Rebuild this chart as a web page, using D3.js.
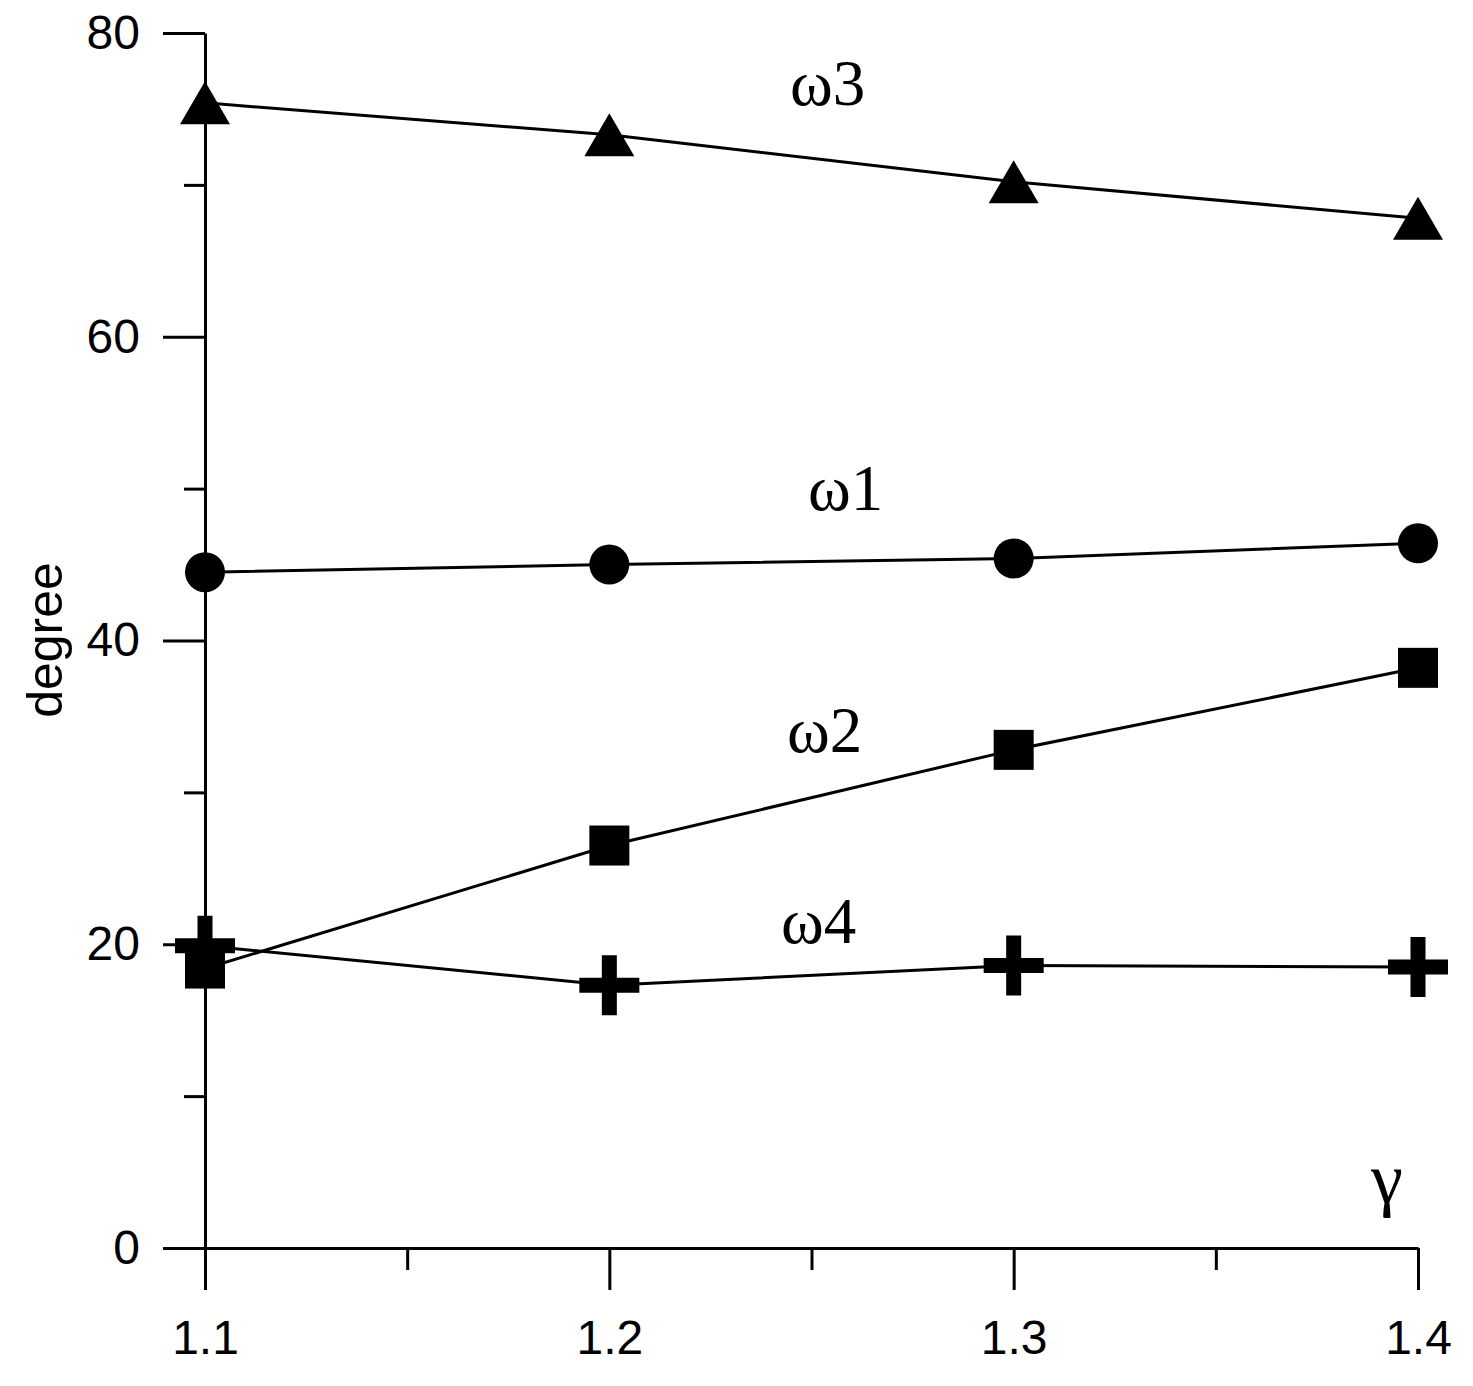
<!DOCTYPE html>
<html lang="en">
<head>
    <meta charset="UTF-8">
    <title>degree vs gamma</title>
    <script src="https://d3js.org/d3.v7.min.js"></script>
    <style>
        body { margin: 0; background: #fff; }
    </style>
</head>
<body>
    <svg width="1473" height="1386"></svg>
    <script>
        // data
        const gammas = [1.1, 1.2, 1.3, 1.4];
        const omega1 = [44.5, 45.0, 45.4, 46.4];
        const omega2 = [18.4, 26.5, 32.8, 38.2];
        const omega3 = [75.4, 73.3, 70.2, 67.8];
        const omega4 = [19.9, 17.3, 18.6, 18.5];
        const yMajor = [0, 20, 40, 60, 80];
        const yMinor = [10, 30, 50, 70];
        const xMajor = [1.1, 1.2, 1.3, 1.4];
        const xMinor = [1.15, 1.25, 1.35];

        const series = [
            { name: "ω1", values: omega1, marker: "circle", label: [808, 510] },
            { name: "ω2", values: omega2, marker: "square", label: [787, 752] },
            { name: "ω3", values: omega3, marker: "triangle", label: [790, 105] },
            { name: "ω4", values: omega4, marker: "cross", label: [781, 943] }
        ];

        const svg = d3.select("svg");
        const x = d3.scaleLinear().domain([1.1, 1.4]).range([205, 1418]);
        const y = d3.scaleLinear().domain([0, 80]).range([1248, 33]);

        // axes
        svg.append("g").attr("transform", "translate(205,0)")
            .call(d3.axisLeft(y).tickValues(yMajor).tickSize(42).tickSizeOuter(0).tickPadding(23));
        svg.append("g").attr("transform", "translate(205,0)")
            .call(d3.axisLeft(y).tickValues(yMinor).tickSize(21).tickFormat(""))
            .select(".domain").remove();

        svg.append("g").attr("transform", "translate(0,1248)")
            .call(d3.axisBottom(x).tickValues(xMajor).tickSize(42).tickSizeOuter(0).tickPadding(30)
                .tickFormat(d3.format(".1f")));
        svg.append("g").attr("transform", "translate(0,1248)")
            .call(d3.axisBottom(x).tickValues(xMinor).tickSize(22).tickFormat(""))
            .select(".domain").remove();

        svg.selectAll(".domain, .tick line")
            .attr("stroke", "#000").attr("stroke-width", 3);
        svg.selectAll(".tick text")
            .attr("fill", "#000")
            .style("font-family", "'Liberation Sans', Arial, sans-serif")
            .style("font-size", "48px");

        // y title
        svg.append("text")
            .attr("transform", "translate(62,640) rotate(-90)")
            .attr("text-anchor", "middle")
            .style("font-family", "'Liberation Sans', Arial, sans-serif")
            .style("font-size", "50px")
            .text("degree");

        // x title
        svg.append("text")
            .attr("x", 1387).attr("y", 1203)
            .attr("text-anchor", "middle")
            .style("font-family", "'Liberation Serif', 'Times New Roman', serif")
            .style("font-size", "72px")
            .text("γ");

        const line = d3.line()
            .x((d, i) => x(gammas[i]))
            .y(d => y(d));

        const cross = "M-30,-7.5H-7.5V-30H7.5V-7.5H30V7.5H7.5V30H-7.5V7.5H-30Z";
        const triangle = "M0,-21.5L25,21.5H-25Z";

        series.forEach(s => {
            svg.append("path")
                .attr("d", line(s.values))
                .attr("fill", "none")
                .attr("stroke", "#000")
                .attr("stroke-width", 3);

            const g = svg.append("g");
            s.values.forEach((v, i) => {
                const cx = x(gammas[i]), cy = y(v);
                if (s.marker === "circle") {
                    g.append("circle").attr("cx", cx).attr("cy", cy).attr("r", 20);
                } else if (s.marker === "square") {
                    g.append("rect").attr("x", cx - 20).attr("y", cy - 20)
                        .attr("width", 40).attr("height", 40);
                } else if (s.marker === "triangle") {
                    g.append("path").attr("d", triangle)
                        .attr("transform", `translate(${cx},${cy})`);
                } else {
                    g.append("path").attr("d", cross)
                        .attr("transform", `translate(${cx},${cy})`);
                }
            });
            g.selectAll("*").attr("fill", "#000");

            svg.append("text")
                .attr("x", s.label[0]).attr("y", s.label[1])
                .style("font-family", "'Liberation Serif', 'Times New Roman', serif")
                .style("font-size", "65px")
                .text(s.name);
        });
    </script>
</body>
</html>
